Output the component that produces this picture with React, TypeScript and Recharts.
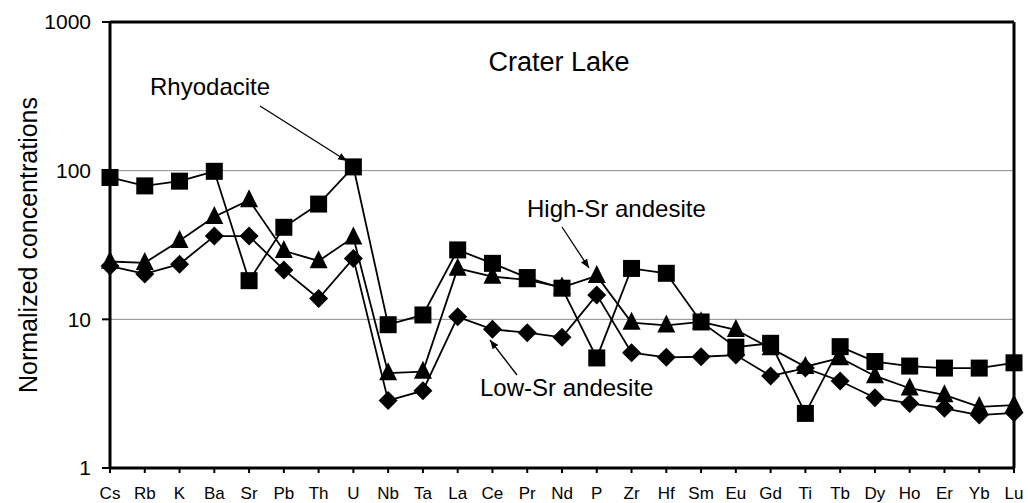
import React from "react";
import { LineChart, Line, XAxis, YAxis, CartesianGrid, ReferenceLine } from "recharts";

const elements = ["Cs","Rb","K","Ba","Sr","Pb","Th","U","Nb","Ta","La","Ce","Pr","Nd","P","Zr","Hf","Sm","Eu","Gd","Ti","Tb","Dy","Ho","Er","Yb","Lu"];
const rhyodacite = [90,79,85,99,18.2,41.6,59.6,106,9.2,10.7,29.3,23.8,19.1,16.2,5.5,22,20.4,9.6,6.5,6.9,2.33,6.55,5.2,4.85,4.7,4.7,5.1];
const highSr = [24.5,24,33.8,49,63.4,28.9,24.7,35.6,4.35,4.45,22,19.4,18.4,16.4,19.6,9.5,9.1,9.6,8.5,6.4,4.8,5.5,4.16,3.44,3.1,2.58,2.65];
const lowSr = [22.8,20.2,23.5,36.3,36.3,21.5,13.8,25.7,2.84,3.31,10.4,8.57,8.13,7.57,14.6,5.97,5.55,5.6,5.75,4.16,4.7,3.85,2.97,2.72,2.52,2.27,2.35];
const yTicks = [1,10,100,1000];

const data = elements.map((e, i) => ({ name: e, rhyo: rhyodacite[i], high: highSr[i], low: lowSr[i] }));

const S = 8.5;
const Square = (p: any) => {
  const { cx, cy } = p;
  if (cx == null || cy == null) return null;
  return <rect x={cx - S} y={cy - S} width={2 * S} height={2 * S} fill="#000" />;
};
const Triangle = (p: any) => {
  const { cx, cy } = p;
  if (cx == null || cy == null) return null;
  const h = 18;
  return <polygon points={`${cx},${cy - h * 0.6} ${cx - 9},${cy + h * 0.4} ${cx + 9},${cy + h * 0.4}`} fill="#000" />;
};
const Diamond = (p: any) => {
  const { cx, cy } = p;
  if (cx == null || cy == null) return null;
  const d = 9.5;
  return <polygon points={`${cx},${cy - d} ${cx + d},${cy} ${cx},${cy + d} ${cx - d},${cy}`} fill="#000" />;
};

const font = "'Liberation Sans', Arial, sans-serif";

export default function App() {
  return (
    <div style={{ position: "absolute", left: 8, top: 8, width: 1020, height: 495, background: "#fff" }}>
      <LineChart width={1020} height={495} data={data} margin={{ top: 14, right: 14, bottom: 5, left: 42 }}>
        <CartesianGrid vertical={false} stroke="#8a8a8a" strokeWidth={1} />
        <XAxis
          dataKey="name"
          scale="point"
          padding={{ left: 0, right: 0 }}
          interval={0}
          height={30}
          tickSize={5}
          tickMargin={14}
          axisLine={{ stroke: "#000", strokeWidth: 3 }}
          tickLine={{ stroke: "#000", strokeWidth: 2 }}
          tick={{ fill: "#000", fontSize: 17, fontFamily: font }}
        />
        <YAxis
          scale="log"
          domain={[1, 1000]}
          ticks={yTicks}
          allowDataOverflow
          width={60}
          tickSize={8}
          tickMargin={11}
          axisLine={{ stroke: "#000", strokeWidth: 3 }}
          tickLine={{ stroke: "#000", strokeWidth: 2 }}
          tick={{ fill: "#000", fontSize: 21, fontFamily: font }}
        />
        <ReferenceLine y={1000} stroke="#000" strokeWidth={3} />
        <ReferenceLine x="Lu" stroke="#000" strokeWidth={3} />
        <Line dataKey="high" stroke="#000" strokeWidth={1.8} dot={<Triangle />} isAnimationActive={false} />
        <Line dataKey="low" stroke="#000" strokeWidth={1.8} dot={<Diamond />} isAnimationActive={false} />
        <Line dataKey="rhyo" stroke="#000" strokeWidth={1.8} dot={<Square />} isAnimationActive={false} />
      </LineChart>
      <svg width={1020} height={495} style={{ position: "absolute", left: 0, top: 0, pointerEvents: "none" }}>
        <defs>
          <marker id="ah" viewBox="0 0 10 10" refX="10" refY="5" markerWidth="9" markerHeight="9" orient="auto" markerUnits="userSpaceOnUse">
            <path d="M0,1 L10,5 L0,9 z" fill="#000" />
          </marker>
        </defs>
        <text x={20} y={237} transform="rotate(-90 20 237)" textAnchor="middle" dominantBaseline="central" fontSize={25} fontFamily={font} fill="#000">Normalized concentrations</text>
        <text x={551} y={63} textAnchor="middle" fontSize={27} fontFamily={font} fill="#000">Crater Lake</text>
        <text x={142} y={87} fontSize={24} fontFamily={font} fill="#000">Rhyodacite</text>
        <line x1={252} y1={98} x2={339} y2={153} stroke="#000" strokeWidth={1.3} markerEnd="url(#ah)" />
        <text x={519} y={209} fontSize={24} fontFamily={font} fill="#000">High-Sr andesite</text>
        <line x1={554} y1={219} x2={581} y2={260} stroke="#000" strokeWidth={1.3} markerEnd="url(#ah)" />
        <text x={472} y={388} fontSize={24} fontFamily={font} fill="#000">Low-Sr andesite</text>
        <line x1={509} y1={367} x2={482} y2={332} stroke="#000" strokeWidth={1.3} markerEnd="url(#ah)" />
      </svg>
    </div>
  );
}
